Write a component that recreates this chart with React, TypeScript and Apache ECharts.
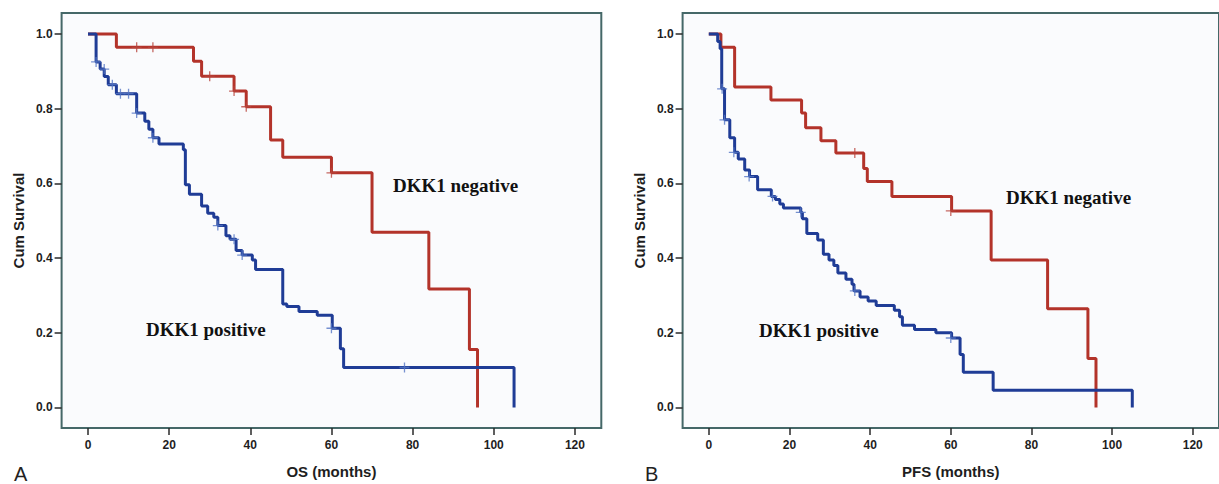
import React, { useEffect, useRef } from "react";
import * as echarts from "echarts";

// ---- tick labels ----
const xTicks = [0, 20, 40, 60, 80, 100, 120];
const yTicks = [0, 0.2, 0.4, 0.6, 0.8, 1.0];

// ---- OS (panel A) ----
const osNegTime = [0, 7, 26, 28, 36, 39, 45, 48, 60, 70, 84, 94, 96];
const osNegSurv = [1, 0.964, 0.927, 0.887, 0.847, 0.805, 0.716, 0.67, 0.628, 0.469, 0.317, 0.155, 0];
const osNegCensTime = [12, 16, 30, 36, 39, 60];
const osNegCensSurv = [0.964, 0.964, 0.887, 0.847, 0.805, 0.628];

const osPosTime = [0, 2, 3, 4, 5, 7, 12, 14, 15, 16, 17.5, 23.5, 24, 25, 28, 29.5, 31, 32, 34, 35, 36.5, 38, 40.5, 41.3, 48, 49, 52, 56.5, 60.2, 62.2, 63, 105];
const osPosSurv = [1, 0.925, 0.906, 0.886, 0.864, 0.84, 0.788, 0.766, 0.745, 0.722, 0.705, 0.69, 0.596, 0.571, 0.539, 0.52, 0.509, 0.487, 0.46, 0.45, 0.42, 0.408, 0.395, 0.369, 0.277, 0.27, 0.257, 0.247, 0.212, 0.157, 0.107, 0];
const osPosCensTime = [2, 4, 6, 8, 10, 12, 16, 32, 36, 38, 60, 78];
const osPosCensSurv = [0.925, 0.906, 0.864, 0.84, 0.84, 0.788, 0.722, 0.487, 0.45, 0.408, 0.212, 0.107];

// ---- PFS (panel B) ----
const pfsNegTime = [0, 3, 6.4, 15.4, 23, 24, 27.8, 31.5, 38.4, 39.3, 45.4, 60.2, 70, 84, 94, 96];
const pfsNegSurv = [1, 0.964, 0.858, 0.823, 0.788, 0.749, 0.714, 0.681, 0.64, 0.605, 0.565, 0.526, 0.395, 0.264, 0.131, 0];
const pfsNegCensTime = [36.2, 60];
const pfsNegCensSurv = [0.681, 0.526];

const pfsPosTime = [0, 2.2, 2.8, 3.2, 3.9, 5.2, 6.4, 7.3, 8.9, 10.1, 12.1, 15.5, 16.5, 17.6, 18.5, 22.8, 23.2, 24.3, 27, 28.4, 29.8, 31, 32, 34, 35.5, 36, 37.5, 39.5, 41.5, 46, 47.3, 48, 51, 56.3, 60.2, 62.3, 63.1, 70.5, 105];
const pfsPosSurv = [1, 0.98, 0.96, 0.853, 0.77, 0.722, 0.683, 0.665, 0.636, 0.618, 0.583, 0.565, 0.557, 0.545, 0.534, 0.522, 0.505, 0.466, 0.448, 0.41, 0.395, 0.38, 0.36, 0.343, 0.33, 0.312, 0.296, 0.285, 0.273, 0.26, 0.243, 0.22, 0.209, 0.2, 0.186, 0.142, 0.094, 0.046, 0];
const pfsPosCensTime = [3.3, 3.9, 6.2, 10, 15.8, 22.8, 36.2, 60];
const pfsPosCensSurv = [0.853, 0.77, 0.683, 0.618, 0.565, 0.522, 0.312, 0.186];

const RED = "#b3332a";
const BLUE = "#1f3c96";
const RED_CROSS = "#b8453c";
const BLUE_CROSS = "#5577c4";
const BORDER = "#456868";
const TEXT = "#1e1e1e";
const SANS = "'Liberation Sans', Arial, sans-serif";
const SERIF = "'Liberation Serif', 'Times New Roman', serif";

const zip = (a: number[], b: number[]) => a.map((v, i) => [v, b[i]]);
const CROSS = "path://M5 0V10M0 5H10";

function App() {
  const ref = useRef<HTMLDivElement>(null);
  useEffect(() => {
    if (!ref.current) return;
    const chart = echarts.init(ref.current, null, { renderer: "svg" });

    const grid = (left: number) => ({
      left,
      top: 13,
      width: 539.7,
      height: 424,
      show: true,
      borderColor: BORDER,
      borderWidth: 2,
      backgroundColor: "#fafbfd",
    });

    const xAxis = (gridIndex: number, name: string) => ({
      type: "value",
      gridIndex,
      min: -6.5,
      max: 126.5,
      position: "bottom",
      axisLine: { show: false, onZero: false },
      splitLine: { show: false },
      axisTick: {
        show: true,
        customValues: xTicks,
        length: 7,
        lineStyle: { color: "#2a2a2a", width: 1.5 },
      },
      axisLabel: {
        customValues: xTicks,
        margin: 11,
        fontFamily: SANS,
        fontWeight: "bold",
        fontSize: 12,
        color: TEXT,
      },
      name,
      nameLocation: "middle",
      nameGap: 36,
      nameTextStyle: { fontFamily: SANS, fontWeight: "bold", fontSize: 15, color: TEXT },
    });

    const yAxis = (gridIndex: number) => ({
      type: "value",
      gridIndex,
      min: -0.055,
      max: 1.056,
      position: "left",
      axisLine: { show: false, onZero: false },
      splitLine: { show: false },
      axisTick: {
        show: true,
        customValues: yTicks,
        length: 7,
        lineStyle: { color: "#2a2a2a", width: 1.5 },
      },
      axisLabel: {
        customValues: yTicks,
        margin: 9,
        formatter: (v: number) => v.toFixed(1),
        fontFamily: SANS,
        fontWeight: "bold",
        fontSize: 12,
        color: TEXT,
      },
      name: "Cum Survival",
      nameLocation: "middle",
      nameGap: 36,
      nameTextStyle: { fontFamily: SANS, fontWeight: "bold", fontSize: 15, color: TEXT },
    });

    const line = (idx: number, t: number[], s: number[], color: string) => ({
      type: "line",
      xAxisIndex: idx,
      yAxisIndex: idx,
      step: "end",
      data: zip(t, s),
      showSymbol: false,
      symbol: "none",
      lineStyle: { color, width: 3 },
      z: 3,
    });

    const cens = (idx: number, t: number[], s: number[], color: string) => ({
      type: "scatter",
      xAxisIndex: idx,
      yAxisIndex: idx,
      data: zip(t, s),
      symbol: CROSS,
      symbolSize: 10,
      itemStyle: { color, borderColor: color, borderWidth: 1.3 },
      z: 4,
    });

    const label = (text: string, x: number, y: number) => ({
      type: "text",
      x,
      y,
      style: {
        text,
        font: `bold 19px ${SERIF}`,
        fill: "#111",
        align: "left",
        verticalAlign: "middle",
        textAlign: "left",
        textVerticalAlign: "middle",
      },
      z: 10,
    });

    const panelLetter = (text: string, x: number) => ({
      type: "text",
      x,
      y: 474,
      style: {
        text,
        font: `20px ${SANS}`,
        fill: "#222",
        align: "left",
        verticalAlign: "middle",
        textAlign: "left",
        textVerticalAlign: "middle",
      },
      z: 10,
    });

    chart.setOption({
      animation: false,
      backgroundColor: "#ffffff",
      grid: [grid(61.6), grid(682.6)],
      xAxis: [xAxis(0, "OS (months)"), xAxis(1, "PFS (months)")],
      yAxis: [yAxis(0), yAxis(1)],
      series: [
        line(0, osNegTime, osNegSurv, RED),
        line(0, osPosTime, osPosSurv, BLUE),
        cens(0, osNegCensTime, osNegCensSurv, RED_CROSS),
        cens(0, osPosCensTime, osPosCensSurv, BLUE_CROSS),
        line(1, pfsNegTime, pfsNegSurv, RED),
        line(1, pfsPosTime, pfsPosSurv, BLUE),
        cens(1, pfsNegCensTime, pfsNegCensSurv, RED_CROSS),
        cens(1, pfsPosCensTime, pfsPosCensSurv, BLUE_CROSS),
      ],
      graphic: [
        label("DKK1 negative", 393, 185),
        label("DKK1 positive", 146, 329),
        label("DKK1 negative", 1006, 197),
        label("DKK1 positive", 759, 330),
        panelLetter("A", 14),
        panelLetter("B", 645),
      ],
    });

    return () => chart.dispose();
  }, []);

  return (
    <div
      ref={ref}
      style={{ position: "absolute", left: 0, top: 0, width: 1219, height: 484 }}
    />
  );
}

export default App;
